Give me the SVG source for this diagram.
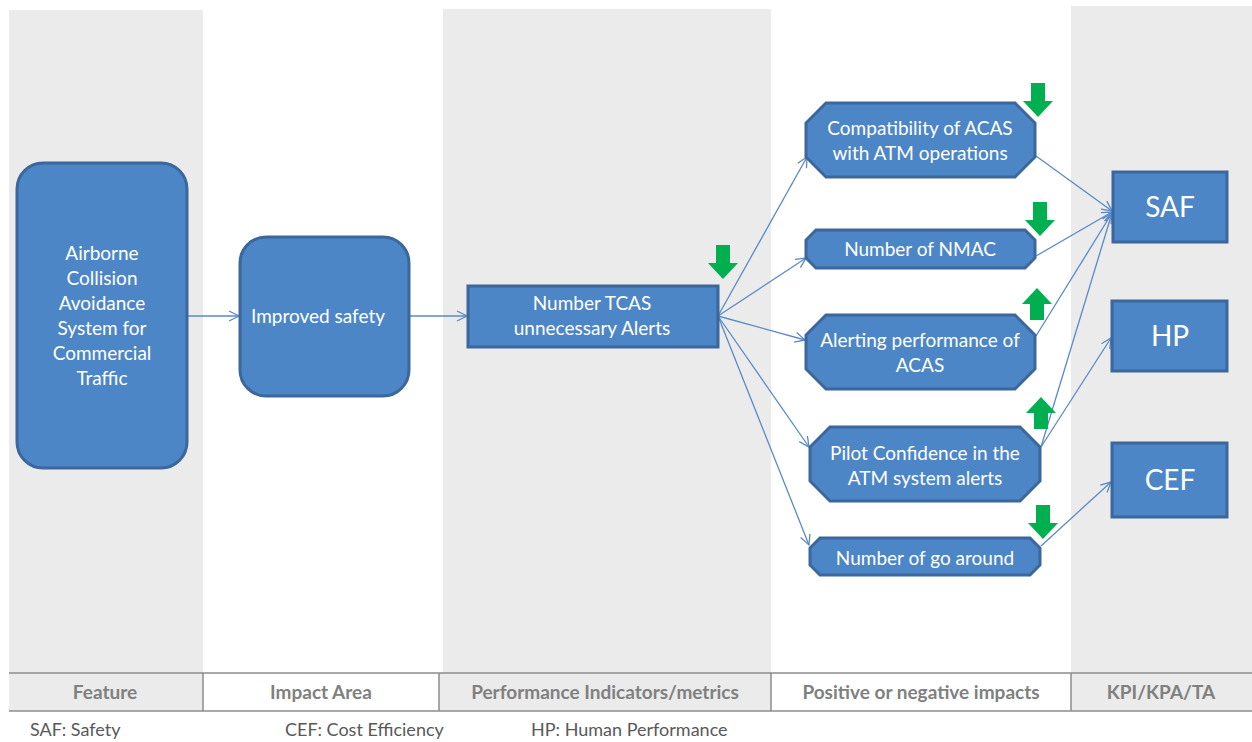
<svg xmlns="http://www.w3.org/2000/svg" xmlns:xlink="http://www.w3.org/1999/xlink" width="1252" height="742" viewBox="0 0 1252 742">
<style>
.band{fill:#ebebeb}
.node{fill:#4d86c6;stroke:#3b679c;stroke-width:3}
.nt{font-family:Lato,"Liberation Sans",sans-serif;font-size:19px;fill:#ffffff;text-anchor:middle}
.big{font-family:Lato,"Liberation Sans",sans-serif;font-size:28px;fill:#ffffff;text-anchor:middle}
.conn{stroke:#5a8ac6;stroke-width:1.3;fill:none;marker-end:url(#arr)}
.hdr{font-family:Lato,"Liberation Sans",sans-serif;font-size:19px;font-weight:bold;fill:#808080;text-anchor:middle}
.leg{font-family:Lato,"Liberation Sans",sans-serif;font-size:18px;fill:#595959}
.tline{stroke:#8c8c8c;stroke-width:1.5;fill:none}
.green{fill:#00b050}
</style>
<defs>
<marker id="arr" viewBox="0 0 12 12" refX="11" refY="6" markerWidth="12" markerHeight="12" markerUnits="userSpaceOnUse" orient="auto">
<path d="M1,1 L11,6 L1,11" fill="none" stroke="#5a8ac6" stroke-width="1.3"/>
</marker>
<path id="down" d="M-7,0 H7 V18 H15 L0,34 L-15,18 H-7 Z"/>
<path id="up" d="M0,0 L15,16 H7 V32 H-7 V16 H-15 Z"/>
</defs>
<rect width="1252" height="742" fill="#ffffff"/>
<g id="bands">
<rect class="band" x="9" y="10" width="194" height="663"/>
<rect class="band" x="443" y="9" width="328" height="664"/>
<rect class="band" x="1071" y="6" width="181" height="667"/>
<rect class="band" x="9" y="673" width="194" height="38"/>
<rect class="band" x="439" y="673" width="332" height="38"/>
<rect class="band" x="1071" y="673" width="181" height="38"/>
</g>
<g id="table">
<line class="tline" x1="9" y1="673" x2="1252" y2="673"/>
<line class="tline" x1="9" y1="711" x2="1252" y2="711"/>
<line class="tline" x1="203" y1="673" x2="203" y2="711"/>
<line class="tline" x1="439" y1="673" x2="439" y2="711"/>
<line class="tline" x1="771" y1="673" x2="771" y2="711"/>
<line class="tline" x1="1071" y1="673" x2="1071" y2="711"/>
<text class="hdr" x="105" y="699">Feature</text>
<text class="hdr" x="321" y="699">Impact Area</text>
<text class="hdr" x="605" y="699">Performance Indicators/metrics</text>
<text class="hdr" x="921" y="699">Positive or negative impacts</text>
<text class="hdr" x="1161" y="699">KPI/KPA/TA</text>
</g>
<g id="legend">
<text class="leg" x="30" y="736">SAF: Safety</text>
<text class="leg" x="285" y="736">CEF: Cost Efficiency</text>
<text class="leg" x="531" y="736">HP: Human Performance</text>
</g>
<g id="connectors">
<line class="conn" x1="187" y1="316" x2="239" y2="316"/>
<line class="conn" x1="409" y1="316" x2="467" y2="316"/>
<line class="conn" x1="718" y1="316" x2="807" y2="157"/>
<line class="conn" x1="718" y1="316" x2="806" y2="258"/>
<line class="conn" x1="718" y1="316" x2="805" y2="340"/>
<line class="conn" x1="718" y1="316" x2="809" y2="447"/>
<line class="conn" x1="718" y1="316" x2="809" y2="545"/>
<line class="conn" x1="1036" y1="156" x2="1112" y2="211"/>
<line class="conn" x1="1036" y1="256" x2="1112" y2="212"/>
<line class="conn" x1="1036" y1="336" x2="1112" y2="213"/>
<line class="conn" x1="1041" y1="447" x2="1112" y2="213"/>
<line class="conn" x1="1041" y1="447" x2="1111" y2="338"/>
<line class="conn" x1="1041" y1="546" x2="1111" y2="482"/>
</g>
<g id="feature">
<rect class="node" x="17" y="163" width="170" height="305" rx="26"/>
<text class="nt" x="102" y="260">Airborne</text>
<text class="nt" x="102" y="285">Collision</text>
<text class="nt" x="102" y="310">Avoidance</text>
<text class="nt" x="102" y="335">System for</text>
<text class="nt" x="102" y="360">Commercial</text>
<text class="nt" x="102" y="385">Traffic</text>
</g>
<g id="improved-safety">
<rect class="node" x="240" y="237" width="169" height="159" rx="26"/>
<text class="nt" x="318" y="323">Improved safety</text>
</g>
<g id="tcas">
<rect class="node" x="468" y="286" width="250" height="61"/>
<text class="nt" x="592" y="310">Number TCAS</text>
<text class="nt" x="592" y="335">unnecessary Alerts</text>
<use href="#down" class="green" x="723" y="245"/>
</g>
<g id="compatibility">
<polygon class="node" points="826,103 1015,103 1035,123 1035,157 1015,177 826,177 806,157 806,123"/>
<text class="nt" x="920" y="135">Compatibility of ACAS</text>
<text class="nt" x="920" y="160">with ATM operations</text>
<use href="#down" class="green" x="1038" y="83"/>
</g>
<g id="nmac">
<polygon class="node" points="816,230 1025,230 1035,240 1035,258 1025,268 816,268 806,258 806,240"/>
<text class="nt" x="920" y="256">Number of NMAC</text>
<use href="#down" class="green" x="1040" y="202"/>
</g>
<g id="alerting">
<polygon class="node" points="826,315 1015,315 1035,335 1035,369 1015,389 826,389 806,369 806,335"/>
<text class="nt" x="920" y="347">Alerting performance of</text>
<text class="nt" x="920" y="372">ACAS</text>
<use href="#up" class="green" x="1037" y="288"/>
</g>
<g id="pilot">
<polygon class="node" points="830,427 1020,427 1040,447 1040,481 1020,501 830,501 810,481 810,447"/>
<text class="nt" x="925" y="460">Pilot Confidence in the</text>
<text class="nt" x="925" y="485">ATM system alerts</text>
<use href="#up" class="green" x="1041" y="397"/>
</g>
<g id="go-around">
<polygon class="node" points="820,538 1030,538 1040,548 1040,565 1030,575 820,575 810,565 810,548"/>
<text class="nt" x="925" y="565">Number of go around</text>
<use href="#down" class="green" x="1043" y="505"/>
</g>
<g id="saf">
<rect class="node" x="1113" y="172" width="114" height="70"/>
<text class="big" x="1170" y="217">SAF</text>
</g>
<g id="hp">
<rect class="node" x="1112" y="301" width="115" height="70"/>
<text class="big" x="1170" y="346">HP</text>
</g>
<g id="cef">
<rect class="node" x="1112" y="443" width="115" height="74"/>
<text class="big" x="1170" y="490">CEF</text>
</g>
</svg>
